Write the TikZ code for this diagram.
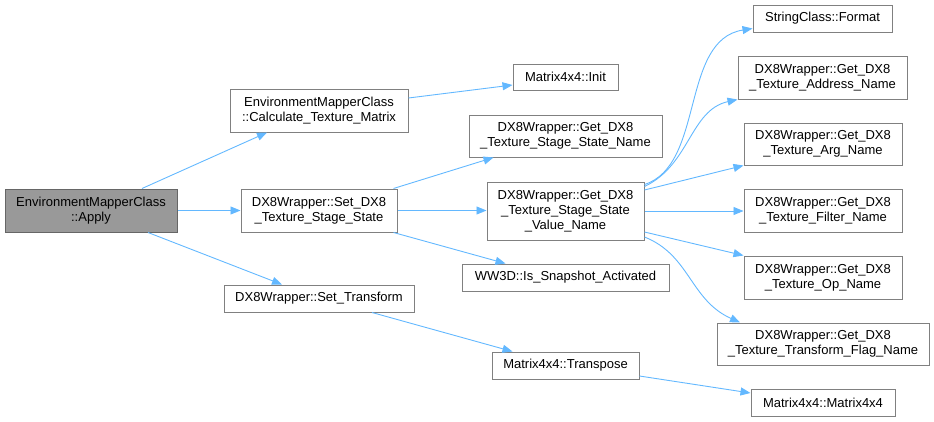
\documentclass[tikz,border=0pt]{standalone}
\usepackage{fontspec}
\setmainfont{Liberation Sans}
\usetikzlibrary{arrows.meta}
\definecolor{edgeblue}{HTML}{63B8FF}
\definecolor{boxline}{HTML}{808080}
\definecolor{rootfill}{HTML}{999999}
\definecolor{rootline}{HTML}{666666}
\begin{document}
\begin{tikzpicture}[x=1pt,y=-1pt,
  fn/.style={draw=boxline, line width=1pt, fill=white, inner sep=0pt,
    align=center, font=\fontsize{13}{15}\selectfont, text=black},
  root/.style={fn, fill=rootfill, draw=rootline},
  call/.style={draw=edgeblue, line width=0.9pt,
    -{Triangle[length=10pt,width=8pt,fill=edgeblue]}}]
\useasboundingbox (0,0) rectangle (934,421);

% functions
\node[root, minimum width=172pt, minimum height=43pt] (apply) at (91,210.5) {EnvironmentMapperClass\\::Apply};
\node[fn, minimum width=178pt, minimum height=43pt] (calc) at (319,110.5) {EnvironmentMapperClass\\::Calculate\_Texture\_Matrix};
\node[fn, minimum width=156pt, minimum height=43pt] (setstate) at (319,210.5) {DX8Wrapper::Set\_DX8\\\_Texture\_Stage\_State};
\node[fn, minimum width=190pt, minimum height=27pt] (settrans) at (319,298.5) {DX8Wrapper::Set\_Transform};
\node[fn, minimum width=105pt, minimum height=26pt] (init) at (565.5,77) {Matrix4x4::Init};
\node[fn, minimum width=193pt, minimum height=42pt] (ssname) at (565.5,136) {DX8Wrapper::Get\_DX8\\\_Texture\_Stage\_State\_Name};
\node[fn, minimum width=157pt, minimum height=58pt] (valname) at (565.5,211) {DX8Wrapper::Get\_DX8\\\_Texture\_Stage\_State\\\_Value\_Name};
\node[fn, minimum width=207pt, minimum height=27pt] (ww3d) at (565.5,277.5) {WW3D::Is\_Snapshot\_Activated};
\node[fn, minimum width=147pt, minimum height=27pt] (transpose) at (565.5,365.5) {Matrix4x4::Transpose};
\node[fn, minimum width=139pt, minimum height=27pt] (format) at (822.5,18.5) {StringClass::Format};
\node[fn, minimum width=169pt, minimum height=43pt] (addr) at (822.5,77.5) {DX8Wrapper::Get\_DX8\\\_Texture\_Address\_Name};
\node[fn, minimum width=158pt, minimum height=42pt] (arg) at (823,144) {DX8Wrapper::Get\_DX8\\\_Texture\_Arg\_Name};
\node[fn, minimum width=158pt, minimum height=43pt] (filter) at (823,211) {DX8Wrapper::Get\_DX8\\\_Texture\_Filter\_Name};
\node[fn, minimum width=158pt, minimum height=43pt] (op) at (823,277.5) {DX8Wrapper::Get\_DX8\\\_Texture\_Op\_Name};
\node[fn, minimum width=212pt, minimum height=42pt] (flag) at (823,344) {DX8Wrapper::Get\_DX8\\\_Texture\_Transform\_Flag\_Name};
\node[fn, minimum width=144pt, minimum height=27pt] (m4) at (823,402.5) {Matrix4x4::Matrix4x4};

% calls
\draw[call] ([xshift=51pt]apply.north) -- ([xshift=-52pt]calc.south);
\draw[call] (apply.east) -- (setstate.west);
\draw[call] ([xshift=57pt]apply.south) -- ([xshift=-37pt]settrans.north);
\draw[call] ([yshift=12.5pt]calc.east) -- ([yshift=-8pt]init.west);
\draw[call] ([xshift=-4pt]setstate.north east) -- ([xshift=-72pt]ssname.south);
\draw[call] (setstate.east) -- (setstate.east -| valname.west);
\draw[call] ([xshift=-4pt]setstate.south east) -- ([xshift=-60pt]ww3d.north);
\draw[call] ([xshift=53pt]settrans.south) -- ([xshift=-53pt]transpose.north);
\draw[call] ([yshift=-10.5pt]transpose.east) -- ([yshift=9.5pt]m4.west);
\draw[call] ([yshift=-3pt]valname.north east) .. controls (705,165) and (680,40) .. ([yshift=-10pt]format.west);
\draw[call] ([yshift=-5pt]valname.north east) .. controls (690,165) and (690,110) .. (addr.south west);
\draw[call] ([yshift=21pt]valname.east) -- (arg.south west);
\draw[call] (valname.east) -- (filter.west);
\draw[call] ([yshift=-21pt]valname.east) -- (op.north west);
\draw[call] ([yshift=-26pt]valname.east) .. controls (690,255) and (690,300) .. ([xshift=-83pt]flag.north);
\end{tikzpicture}
\end{document}
